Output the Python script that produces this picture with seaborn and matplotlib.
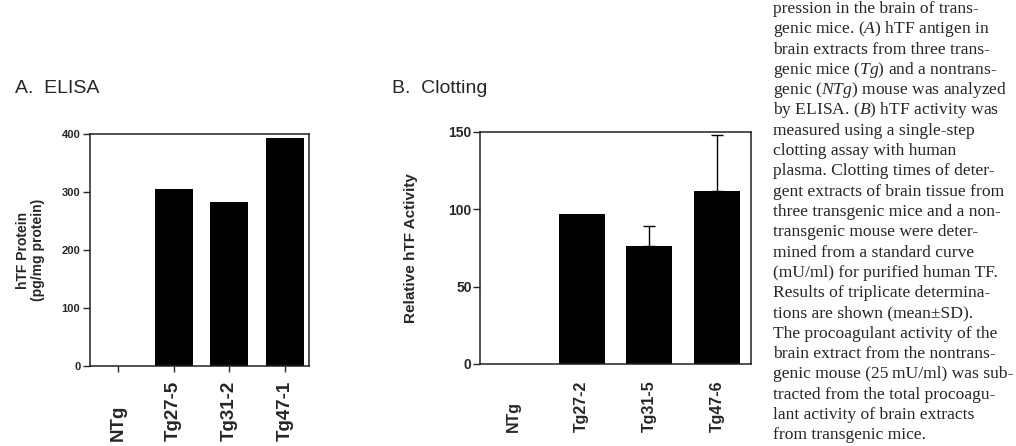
import numpy as np
import pandas as pd
import seaborn as sns
import matplotlib
matplotlib.use("Agg")
import matplotlib.pyplot as plt

# Panel A: ELISA
elisa_groups = ["NTg", "Tg27-5", "Tg31-2", "Tg47-1"]
elisa_values = [0, 306, 283, 393]

# Panel B: clotting (mean, upper SD)
clot_groups = ["NTg", "Tg27-2", "Tg31-5", "Tg47-6"]
clot_values = [0, 97, 76, 112]
clot_sd = [0, 0, 13, 36]

elisa_ticks = [0, 100, 200, 300, 400]
clot_ticks = [0, 50, 100, 150]

caption_lines = [
    "pression in the brain of trans-",
    "genic mice. ($A$) hTF antigen in",
    "brain extracts from three trans-",
    "genic mice ($Tg$) and a nontrans-",
    "genic ($NTg$) mouse was analyzed",
    "by ELISA. ($B$) hTF activity was",
    "measured using a single-step",
    "clotting assay with human",
    "plasma. Clotting times of deter-",
    "gent extracts of brain tissue from",
    "three transgenic mice and a non-",
    "transgenic mouse were deter-",
    "mined from a standard curve",
    "(mU/ml) for purified human TF.",
    "Results of triplicate determina-",
    "tions are shown (mean\u00b1SD).",
    "The procoagulant activity of the",
    "brain extract from the nontrans-",
    "genic mouse (25\u2009mU/ml) was sub-",
    "tracted from the total procoagu-",
    "lant activity of brain extracts",
    "from transgenic mice.",
]

sns.set_style("ticks")
plt.rcParams["font.family"] = ["Liberation Sans", "DejaVu Sans"]
plt.rcParams["mathtext.fontset"] = "custom"
plt.rcParams["mathtext.rm"] = "Liberation Serif"
plt.rcParams["mathtext.it"] = "Liberation Serif:italic"
plt.rcParams["axes.linewidth"] = 1.1
plt.rcParams["axes.edgecolor"] = "#222222"

fig = plt.figure(figsize=(10.16, 4.46), dpi=100)
ax_a = fig.add_axes([0.0886, 0.1794, 0.2156, 0.5202])
ax_b = fig.add_axes([0.4724, 0.1839, 0.2667, 0.5202])

df_a = pd.DataFrame({"group": elisa_groups, "value": elisa_values})
df_b = pd.DataFrame({"group": clot_groups, "value": clot_values, "sd": clot_sd})

sns.barplot(data=df_a, x="group", y="value", ax=ax_a, color="black",
            saturation=1, width=0.68, errorbar=None, linewidth=0)
sns.barplot(data=df_b, x="group", y="value", ax=ax_b, color="black",
            saturation=1, width=0.68, errorbar=None, linewidth=0)

# one-sided SD bars (upper only)
has_err = df_b["sd"] > 0
pos = np.arange(len(df_b))[has_err.values]
ax_b.errorbar(pos, df_b["value"][has_err], yerr=[np.zeros(has_err.sum()), df_b["sd"][has_err]],
              fmt="none", ecolor="black", elinewidth=1, capsize=4, capthick=1)

for ax in (ax_a, ax_b):
    for s in ax.spines.values():
        s.set_visible(True)
    ax.set_xlabel("")

# panel A axes
ax_a.set_xlim(-0.5, 3.43)
ax_a.set_ylim(0, 400)
ax_a.set_yticks(elisa_ticks)
ax_a.set_yticklabels([str(t) for t in elisa_ticks], fontsize=8, fontweight="bold")
ax_a.tick_params(axis="y", direction="out", length=5, width=1, pad=2)
ax_a.tick_params(axis="x", direction="out", length=4, width=1, pad=50)
ax_a.set_xticks(range(len(elisa_groups)))
ax_a.set_xticklabels(elisa_groups, rotation=90, va="bottom", fontsize=13.5, fontweight="bold")
ax_a.set_ylabel("hTF Protein\n(pg/mg protein)", fontsize=10, fontweight="bold",
                labelpad=12, linespacing=1.1)

# panel B axes
ax_b.set_xlim(-0.5, 3.5)
ax_b.set_ylim(0, 150)
ax_b.set_yticks(clot_ticks)
ax_b.set_yticklabels([str(t) for t in clot_ticks], fontsize=10, fontweight="bold")
ax_b.tick_params(axis="y", direction="out", length=5, width=1, pad=1)
ax_b.tick_params(axis="x", length=0, pad=49)
ax_b.set_xticks(range(len(clot_groups)))
ax_b.set_xticklabels(clot_groups, rotation=90, va="bottom", fontsize=11.5, fontweight="bold")
ax_b.set_ylabel("Relative hTF Activity", fontsize=11, fontweight="bold", labelpad=22)

fig.text(15 / 1016, 1 - 93 / 446, "A.  ELISA", fontsize=14, va="baseline", ha="left")
fig.text(392 / 1016, 1 - 93 / 446, "B.  Clotting", fontsize=14, va="baseline", ha="left")

for i, line in enumerate(caption_lines):
    y_px = 13 + i * 20.3
    fig.text(773 / 1016, 1 - y_px / 446, line, fontsize=12.6, va="baseline", ha="left",
             family=["Liberation Serif", "DejaVu Serif"])

fig.savefig("out.png", dpi=100)
